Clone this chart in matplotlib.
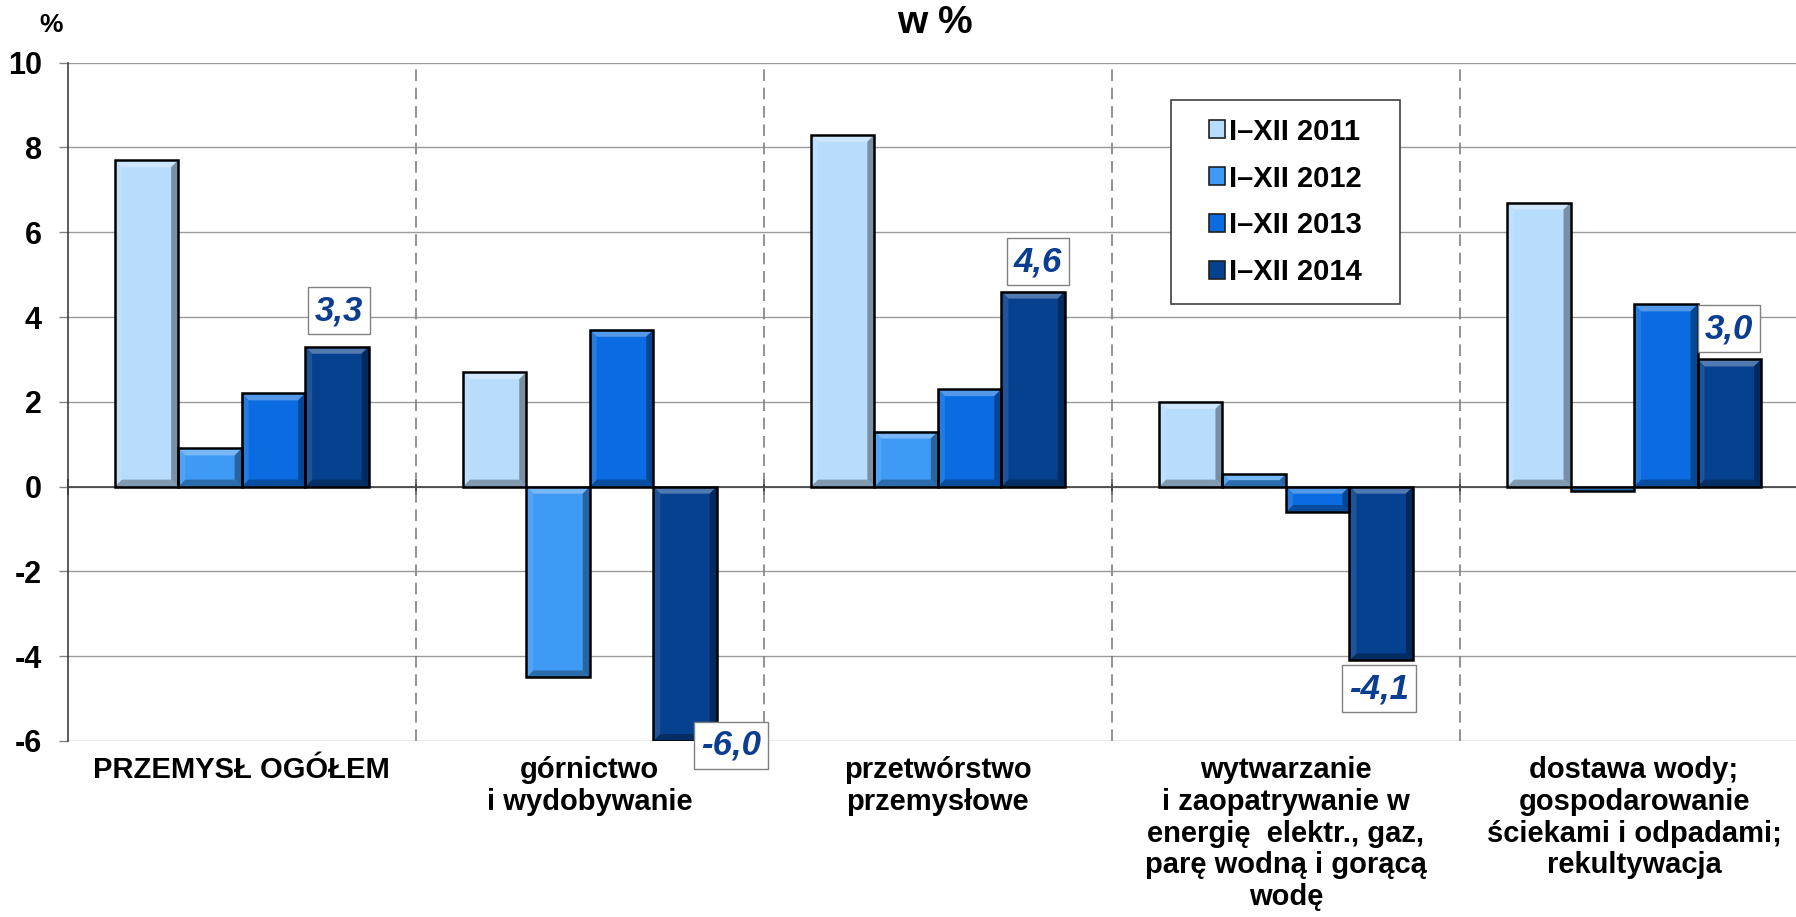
# -*- coding: UTF-8 -*-
# Dynamika produkcji sprzedanej przemyslu, I-XII 2011-2014 (w %)

import matplotlib
matplotlib.use('Agg')
import matplotlib.pyplot as plt
import matplotlib.patches as mpatches
import matplotlib.transforms as mtransforms
from matplotlib.colors import to_rgb
import numpy as np

# Data
categories = ['PRZEMYSŁ OGÓŁEM',
              'górnictwo\ni wydobywanie',
              'przetwórstwo\nprzemysłowe',
              'wytwarzanie\ni zaopatrywanie w\nenergię  elektr., gaz,\nparę wodną i gorącą\nwodę',
              'dostawa wody;\ngospodarowanie\nściekami i odpadami;\nrekultywacja']
series_names = ['I–XII 2011', 'I–XII 2012', 'I–XII 2013', 'I–XII 2014']
values_2011 = [7.7, 2.7, 8.3, 2.0, 6.7]
values_2012 = [0.9, -4.5, 1.3, 0.3, -0.1]
values_2013 = [2.2, 3.7, 2.3, -0.6, 4.3]
values_2014 = [3.3, -6.0, 4.6, -4.1, 3.0]
y_ticks = [-6, -4, -2, 0, 2, 4, 6, 8, 10]

# Style
series_values = [values_2011, values_2012, values_2013, values_2014]
series_colors = ['#B8DCFC', '#3E9AF4', '#0A6CE0', '#06418F']
label_color = '#0B3D91'
label_offsets = [(1.5, 26), (33, -3), (3.5, 21.5), (-1.5, -20.5), (0, 22)]  # points from bar end
font_name = 'Liberation Sans'
fig_w, fig_h, dpi = 17.96, 9.17, 100
bar_w = 0.1824
bevel_px = 7

plt.rcParams['font.family'] = [font_name, 'DejaVu Sans']
fig = plt.figure(figsize=(fig_w, fig_h), dpi=dpi)
ax_pos = [67.6 / 1796, 176 / 917, 1740.5 / 1796, 678.3 / 917]
ax = fig.add_axes(ax_pos)
ax.set_xlim(-0.5, 4.5)
ax.set_ylim(-6, 10)

# pixels per data unit, used for the bevel
px_x = ax_pos[2] * fig_w * dpi / 5.0
px_y = ax_pos[3] * fig_h * dpi / 16.0


def mix(color, other, t):
    c = np.array(to_rgb(color))
    o = np.array(to_rgb(other))
    return tuple(c * (1 - t) + o * t)


def add_bevel(patch, color):
    x0 = patch.get_x()
    x1 = x0 + patch.get_width()
    y0 = min(patch.get_y(), patch.get_y() + patch.get_height())
    y1 = max(patch.get_y(), patch.get_y() + patch.get_height())
    by = min(bevel_px / px_y, (y1 - y0) / 2.0)
    bx = by * px_y / px_x
    sides = [
        ([(x0, y1), (x1, y1), (x1 - bx, y1 - by), (x0 + bx, y1 - by)], mix(color, 'white', 0.3)),
        ([(x0, y0), (x1, y0), (x1 - bx, y0 + by), (x0 + bx, y0 + by)], mix(color, 'black', 0.3)),
        ([(x0, y0), (x0 + bx, y0 + by), (x0 + bx, y1 - by), (x0, y1)], mix(color, 'white', 0.1)),
        ([(x1, y0), (x1 - bx, y0 + by), (x1 - bx, y1 - by), (x1, y1)], mix(color, 'black', 0.35)),
    ]
    for pts, c in sides:
        ax.add_patch(mpatches.Polygon(pts, closed=True, facecolor=c, edgecolor='none', zorder=3))


# Bars
x = np.arange(len(categories))
for i, (vals, col) in enumerate(zip(series_values, series_colors)):
    pos = x + (i - 1.5) * bar_w
    bars = ax.bar(pos, vals, width=bar_w, color=col, edgecolor='none', zorder=2)
    for p in bars:
        add_bevel(p, col)
    ax.bar(pos, vals, width=bar_w, fill=False, edgecolor='black', linewidth=1.8, zorder=4)

# Value labels for the last series
for k, v in enumerate(values_2014):
    ax.annotate(('%.1f' % v).replace('.', ','), xy=(x[k] + 1.5 * bar_w, v),
                xytext=label_offsets[k], textcoords='offset points',
                ha='center', va='center', fontsize=25, fontweight='bold', fontstyle='italic',
                color=label_color, zorder=6,
                bbox=dict(boxstyle='square,pad=0.2', fc='white', ec='#808080', lw=1))

# Grid, dividers and axes
ax.set_yticks(y_ticks)
ax.set_yticklabels([str(t) for t in y_ticks])
ax.yaxis.grid(True, color='#9A9A9A', linewidth=1, zorder=0)
ax.set_axisbelow(True)
for d in [0.5, 1.5, 2.5, 3.5]:
    ax.plot([d, d], [-6, 10], color='#808080', linewidth=1.2, linestyle=(0, (7, 4)), zorder=1)

ax.spines['top'].set_visible(False)
ax.spines['right'].set_visible(False)
ax.spines['bottom'].set_position(('data', 0))
ax.spines['bottom'].set_color('#404040')
ax.spines['bottom'].set_linewidth(1.2)
ax.spines['left'].set_color('#404040')
ax.spines['left'].set_linewidth(1.2)
ax.set_xticks([-0.5, 0.5, 1.5, 2.5, 3.5])
ax.tick_params(axis='x', direction='inout', length=11, width=1.2, color='#202020', labelbottom=False)
ax.tick_params(axis='y', direction='out', length=6.5, width=1, color='#808080', pad=12,
               labelsize=22)
for lab in ax.get_yticklabels():
    lab.set_fontweight('bold')

# Category labels, shifted a little below the bottom of the plot
offset = mtransforms.ScaledTranslation(0, -11 / 72.0, fig.dpi_scale_trans)
for k, name in enumerate(categories):
    ax.text(x[k], -6, name, transform=ax.transData + offset, ha='center', va='top',
            fontsize=21, fontweight='bold', linespacing=1.17, multialignment='center')

# Title and unit
fig.text(935 / 1796, 1 - 23 / 917, 'w %', ha='center', va='center', fontsize=28, fontweight='bold')
fig.text(51 / 1796, 1 - 25 / 917, '%', ha='center', va='center', fontsize=19, fontweight='bold')

# Legend with its own frame
handles = [mpatches.Patch(facecolor=c, edgecolor='#202020', linewidth=1.2) for c in series_colors]
fig.patches.append(mpatches.Rectangle((1171 / 1796, 1 - 304 / 917), 229 / 1796, 204 / 917,
                                      transform=fig.transFigure, facecolor='white',
                                      edgecolor='#404040', linewidth=1.2, zorder=5))
leg = fig.legend(handles, series_names, loc='center', bbox_to_anchor=(1285.5 / 1796, 1 - 202 / 917),
                 frameon=False, fontsize=21, handlelength=0.55, handleheight=0.55,
                 handletextpad=0.15, labelspacing=0.65, borderpad=0)
for t in leg.get_texts():
    t.set_fontweight('bold')
leg.set_zorder(6)

plt.savefig('out.png', dpi=dpi)
plt.close('all')
